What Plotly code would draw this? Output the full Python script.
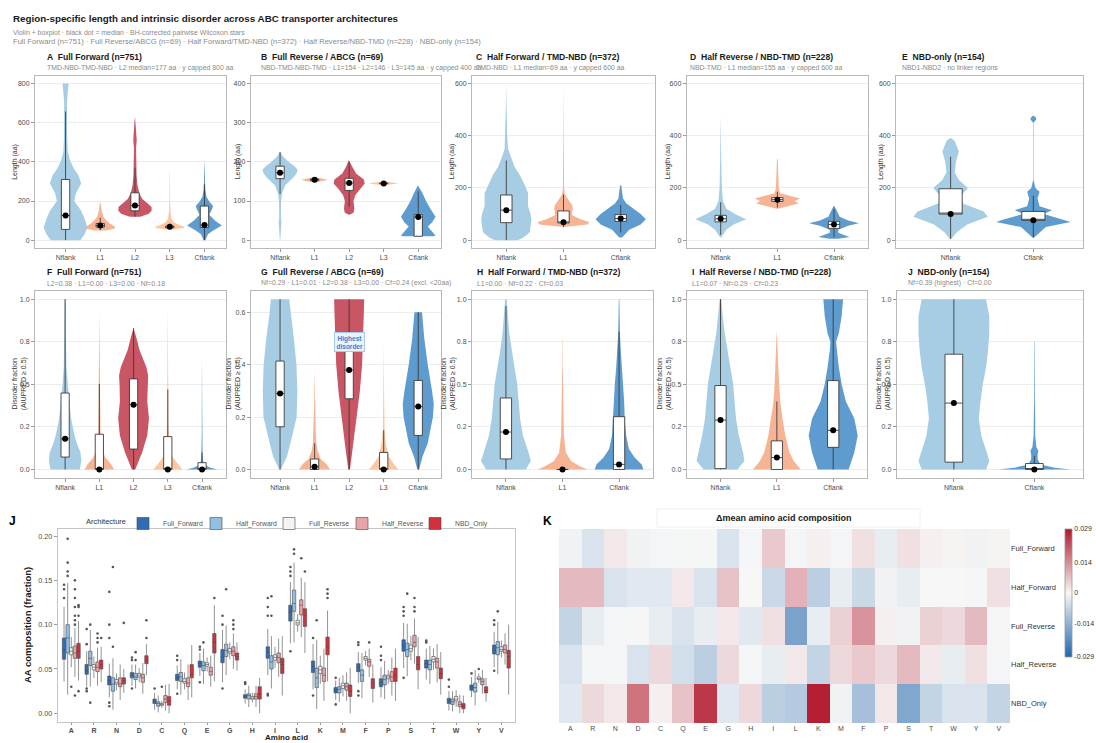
import plotly.graph_objects as go

# ---------------------------------------------------------------
# Region categories
# ---------------------------------------------------------------
REG5 = ["Nflank", "L1", "L2", "L3", "Cflank"]
REG3 = ["Nflank", "L1", "Cflank"]
REG2 = ["Nflank", "Cflank"]

# ---------------------------------------------------------------
# Region length (aa): box statistics and violin density profiles
# (profile = list of y levels and relative density at each level)
# ---------------------------------------------------------------
A_q1 = [55, 67, 150, 63, 65]
A_med = [126, 75, 177, 68, 77]
A_q3 = [310, 85, 242, 72, 174]
A_lo = [0, 50, 120, 55, 0]
A_hi = [657, 115, 370, 85, 285]
A_prof = {
    "Nflank": ([0, 30, 65, 110, 150, 200, 240, 290, 330, 370, 410, 450, 520, 600, 700, 780, 800],
               [0.85, 1.1, 1.26, 1.1, 0.9, 0.5, 0.6, 0.9, 0.75, 0.45, 0.25, 0.13, 0.09, 0.07, 0.08, 0.15, 0.18]),
    "L1": ([50, 58, 65, 72, 85, 100, 120, 150, 180, 200],
           [0.3, 0.8, 0.86, 0.8, 0.55, 0.35, 0.18, 0.08, 0.04, 0.02]),
    "L2": ([120, 135, 150, 170, 190, 210, 240, 280, 330, 400, 470, 510, 540, 600, 630],
           [0.3, 0.8, 0.96, 0.95, 0.7, 0.42, 0.25, 0.14, 0.09, 0.06, 0.06, 0.1, 0.07, 0.04, 0.0]),
    "L3": ([55, 62, 68, 75, 90, 110, 150, 200, 350],
           [0.2, 0.8, 0.86, 0.6, 0.25, 0.1, 0.04, 0.02, 0.01]),
    "Cflank": ([0, 30, 50, 75, 100, 130, 160, 175, 195, 220, 260, 300, 420],
               [0.05, 0.2, 0.5, 1.0, 0.6, 0.28, 0.45, 0.5, 0.3, 0.12, 0.05, 0.03, 0.01]),
}

B_q1 = [157, 152, 127, 144, 10]
B_med = [172, 154, 146, 145, 59]
B_q3 = [189, 156, 158, 146, 65]
B_lo = [118, 150, 85, 142, 10]
B_hi = [225, 158, 200, 148, 125]
B_prof = {
    "Nflank": ([0, 20, 45, 60, 80, 100, 120, 140, 160, 170, 180, 190, 200, 215, 225],
               [0.01, 0.03, 0.08, 0.05, 0.05, 0.06, 0.12, 0.3, 0.77, 0.95, 1.02, 0.8, 0.48, 0.15, 0.02]),
    "L1": ([147, 151, 154, 157, 161], [0.0, 0.5, 0.77, 0.5, 0.0]),
    "L2": ([65, 70, 80, 100, 115, 130, 145, 155, 170, 190, 205],
           [0.02, 0.25, 0.3, 0.25, 0.35, 0.6, 0.9, 0.85, 0.4, 0.15, 0.02]),
    "L3": ([140, 143, 145, 147, 150], [0.0, 0.55, 0.85, 0.55, 0.0]),
    "Cflank": ([10, 12, 25, 35, 45, 60, 80, 100, 120, 140],
               [0.9, 1.0, 0.75, 0.55, 0.8, 1.0, 0.7, 0.45, 0.25, 0.02]),
}

C_q1 = [67, 66, 72]
C_med = [115, 69, 83]
C_q3 = [173, 112, 98]
C_lo = [0, 50, 30]
C_hi = [305, 175, 135]
C_prof = {
    "Nflank": ([0, 10, 30, 80, 100, 130, 150, 180, 210, 250, 280, 320, 350, 400, 500, 600],
               [0.4, 0.6, 0.82, 0.88, 0.85, 0.76, 0.76, 0.76, 0.65, 0.47, 0.29, 0.15, 0.06, 0.03, 0.02, 0.01]),
    "L1": ([50, 60, 70, 80, 95, 110, 120, 135, 150, 175, 200, 400, 600],
           [0.02, 0.85, 0.9, 0.6, 0.3, 0.3, 0.33, 0.3, 0.2, 0.05, 0.02, 0.01, 0.005]),
    "Cflank": ([10, 40, 60, 80, 100, 120, 140, 160, 210],
               [0.05, 0.3, 0.7, 0.88, 0.7, 0.45, 0.2, 0.08, 0.02]),
}

D_q1 = [70, 148, 45]
D_med = [82, 155, 60]
D_q3 = [95, 163, 72]
D_lo = [20, 125, 10]
D_hi = [145, 185, 120]
D_prof = {
    "Nflank": ([10, 40, 60, 80, 100, 120, 150, 200, 300, 480],
               [0.02, 0.2, 0.45, 0.9, 0.5, 0.2, 0.08, 0.04, 0.02, 0.01]),
    "L1": ([120, 128, 140, 150, 160, 168, 180, 200, 250, 310],
           [0.02, 0.3, 0.75, 0.62, 0.8, 0.5, 0.1, 0.05, 0.03, 0.015]),
    "Cflank": ([5, 12, 18, 28, 40, 55, 65, 75, 90, 110, 130],
               [0.15, 0.55, 0.4, 0.15, 0.15, 0.5, 0.88, 0.5, 0.2, 0.1, 0.02]),
}

E_q1 = [100, 76]
E_med = [100, 76]
E_q3 = [197, 110]
E_lo = [5, 10]
E_hi = [320, 170]
E_prof = {
    "Nflank": ([5, 30, 60, 90, 110, 140, 170, 200, 230, 260, 300, 340, 380, 390],
               [0.02, 0.15, 0.4, 0.9, 0.8, 0.3, 0.25, 0.42, 0.2, 0.1, 0.13, 0.2, 0.1, 0.02]),
    "Cflank": ([10, 50, 70, 80, 100, 115, 130, 160, 185, 200, 230, 450, 462, 470, 478],
               [0.02, 0.3, 0.9, 0.7, 0.25, 0.45, 0.15, 0.1, 0.15, 0.05, 0.005, 0.005, 0.07, 0.06, 0.0]),
}

# ---------------------------------------------------------------
# Disorder fraction (AIUPRED >= 0.5)
# ---------------------------------------------------------------
F_q1 = [0.073, 0, 0.12, 0, 0]
F_med = [0.18, 0, 0.38, 0, 0]
F_q3 = [0.449, 0.207, 0.532, 0.193, 0.04]
F_lo = [0, 0, 0, 0, 0]
F_hi = [1.0, 0.503, 0.83, 0.47, 0.1]
F_prof = {
    "Nflank": ([0, 0.05, 0.1, 0.15, 0.2, 0.3, 0.4, 0.5, 0.6, 0.8, 1.0],
               [0.86, 0.95, 0.9, 0.7, 0.55, 0.35, 0.25, 0.15, 0.08, 0.04, 0.03]),
    "L1": ([0, 0.03, 0.07, 0.12, 0.2, 0.3, 0.5, 0.7, 0.93],
           [0.86, 0.7, 0.35, 0.15, 0.07, 0.05, 0.04, 0.02, 0.01]),
    "L2": ([0, 0.05, 0.1, 0.2, 0.3, 0.4, 0.5, 0.55, 0.6, 0.7, 0.78, 0.83],
           [0.1, 0.3, 0.5, 0.8, 0.9, 0.8, 0.82, 0.85, 0.75, 0.35, 0.15, 0.01]),
    "L3": ([0, 0.03, 0.07, 0.12, 0.2, 0.3, 0.5, 0.96],
           [0.85, 0.6, 0.3, 0.12, 0.06, 0.04, 0.03, 0.01]),
    "Cflank": ([0, 0.01, 0.03, 0.06, 0.1, 0.2, 0.5, 0.68],
               [0.9, 0.5, 0.1, 0.05, 0.03, 0.02, 0.01, 0.005]),
}

G_q1 = [0.163, 0, 0.27, 0, 0.13]
G_med = [0.29, 0.01, 0.38, 0, 0.24]
G_q3 = [0.414, 0.04, 0.5, 0.065, 0.34]
G_lo = [0, 0, 0, 0, 0]
G_hi = [0.65, 0.1, 0.65, 0.15, 0.6]
G_prof = {
    "Nflank": ([0, 0.05, 0.1, 0.2, 0.3, 0.4, 0.5, 0.6, 0.65],
               [0.05, 0.4, 0.6, 0.96, 1.0, 0.95, 0.8, 0.6, 0.53]),
    "L1": ([0, 0.02, 0.04, 0.07, 0.1, 0.15, 0.25, 0.38],
           [0.9, 0.7, 0.35, 0.18, 0.1, 0.06, 0.03, 0.01]),
    "L2": ([0, 0.1, 0.2, 0.3, 0.4, 0.5, 0.6, 0.65],
           [0.05, 0.25, 0.45, 0.62, 0.75, 0.82, 0.85, 0.87]),
    "L3": ([0, 0.02, 0.05, 0.1, 0.15, 0.3, 0.48],
           [0.85, 0.6, 0.3, 0.12, 0.05, 0.02, 0.01]),
    "Cflank": ([0, 0.05, 0.1, 0.2, 0.25, 0.3, 0.4, 0.5, 0.6],
               [0.05, 0.25, 0.55, 0.85, 0.9, 0.8, 0.55, 0.35, 0.22]),
}

H_q1 = [0.062, 0, 0]
H_med = [0.22, 0, 0.03]
H_q3 = [0.42, 0, 0.31]
H_lo = [0, 0, 0]
H_hi = [0.96, 0, 0.81]
H_prof = {
    "Nflank": ([0, 0.05, 0.1, 0.2, 0.3, 0.4, 0.5, 0.6, 0.7, 0.8, 0.9, 1.0],
               [0.7, 0.88, 0.8, 0.6, 0.5, 0.45, 0.4, 0.3, 0.2, 0.12, 0.07, 0.03]),
    "L1": ([0, 0.02, 0.05, 0.1, 0.2, 0.4, 0.6, 0.77],
           [0.88, 0.6, 0.3, 0.12, 0.05, 0.02, 0.01, 0.005]),
    "Cflank": ([0, 0.03, 0.07, 0.12, 0.2, 0.3, 0.4, 0.5, 0.6, 0.7, 0.8, 1.0],
               [0.86, 0.8, 0.55, 0.35, 0.25, 0.2, 0.18, 0.15, 0.1, 0.06, 0.03, 0.01]),
}

I_q1 = [0.005, 0, 0.13]
I_med = [0.29, 0.07, 0.23]
I_q3 = [0.493, 0.168, 0.522]
I_lo = [0, 0, 0]
I_hi = [1.0, 0.4, 1.0]
I_prof = {
    "Nflank": ([0, 0.05, 0.1, 0.2, 0.3, 0.4, 0.5, 0.6, 0.7, 0.8, 0.9, 1.0],
               [0.6, 0.85, 0.8, 0.65, 0.55, 0.5, 0.45, 0.35, 0.25, 0.15, 0.08, 0.03]),
    "L1": ([0, 0.05, 0.1, 0.2, 0.3, 0.4, 0.5, 0.6, 0.7, 0.82],
           [0.85, 0.6, 0.45, 0.3, 0.2, 0.12, 0.08, 0.05, 0.03, 0.005]),
    "Cflank": ([0, 0.1, 0.2, 0.3, 0.4, 0.5, 0.6, 0.7, 0.75, 0.8, 0.9, 1.0],
               [0.55, 0.75, 0.87, 0.75, 0.45, 0.3, 0.2, 0.12, 0.1, 0.2, 0.3, 0.35]),
}

J_q1 = [0.043, 0]
J_med = [0.39, 0]
J_q3 = [0.677, 0.035]
J_lo = [0, 0]
J_hi = [1.0, 0.08]
J_prof = {
    "Nflank": ([0, 0.05, 0.1, 0.2, 0.3, 0.4, 0.5, 0.6, 0.7, 0.8, 0.9, 1.0],
               [0.8, 0.88, 0.82, 0.68, 0.62, 0.66, 0.72, 0.8, 0.85, 0.88, 0.88, 0.8]),
    "Cflank": ([0, 0.01, 0.03, 0.06, 0.09, 0.11, 0.13, 0.2, 0.3, 0.4, 0.75],
               [0.9, 0.5, 0.15, 0.08, 0.08, 0.1, 0.05, 0.02, 0.02, 0.01, 0.005]),
}

# ---------------------------------------------------------------
# Amino-acid composition per architecture
# ---------------------------------------------------------------
AMINO = ["A", "R", "N", "D", "C", "Q", "E", "G", "H", "I",
         "L", "K", "M", "F", "P", "S", "T", "W", "Y", "V"]
ARCH = ["Full_Forward", "Half_Forward", "Full_Reverse", "Half_Reverse", "NBD_Only"]

FF_q1 = [.061, .044, .032, .040, .011, .037, .052, .057, .017, .062, .104, .046, .023, .047, .030, .070, .051, .011, .026, .067]
FF_med = [.072, .048, .037, .043, .013, .040, .056, .063, .019, .069, .114, .053, .026, .052, .035, .076, .056, .014, .029, .071]
FF_q3 = [.085, .055, .042, .046, .016, .044, .059, .072, .021, .075, .122, .059, .029, .056, .039, .083, .060, .017, .032, .077]
FF_lo = [.036, .030, .018, .031, .004, .027, .042, .035, .011, .043, .079, .027, .015, .034, .018, .051, .038, .003, .018, .052]
FF_hi = [.120, .070, .056, .055, .023, .054, .068, .094, .027, .095, .148, .078, .037, .069, .052, .102, .073, .025, .041, .092]

HF_q1 = [.068, .054, .025, .038, .008, .036, .048, .064, .016, .050, .115, .029, .023, .036, .032, .064, .049, .010, .024, .066]
HF_med = [.085, .062, .033, .041, .011, .041, .054, .071, .020, .058, .124, .040, .027, .043, .038, .072, .055, .013, .029, .074]
HF_q3 = [.100, .070, .040, .045, .013, .046, .058, .078, .022, .065, .139, .051, .030, .049, .043, .079, .060, .016, .034, .081]
HF_lo = [.021, .030, .004, .028, .001, .021, .033, .043, .007, .028, .080, .005, .013, .017, .016, .042, .033, .002, .009, .044]
HF_hi = [.147, .094, .062, .055, .020, .061, .073, .099, .031, .087, .170, .083, .040, .068, .059, .101, .076, .025, .049, .103]

FR_q1 = [.066, .049, .033, .041, .009, .034, .053, .068, .016, .060, .0996, .045, .028, .060, .039, .070, .058, .014, .038, .070]
FR_med = [.070, .052, .035, .043, .010, .036, .055, .070, .017, .063, .102, .049, .031, .062, .041, .073, .061, .016, .039, .072]
FR_q3 = [.074, .055, .038, .045, .011, .039, .057, .073, .019, .066, .105, .053, .034, .064, .043, .077, .064, .019, .041, .075]
FR_lo = [.052, .040, .026, .035, .006, .027, .047, .061, .012, .051, .092, .033, .019, .054, .033, .060, .049, .007, .034, .063]
FR_hi = [.086, .064, .045, .051, .014, .046, .063, .080, .023, .075, .112, .065, .043, .070, .049, .087, .073, .026, .045, .082]

HR_q1 = [.062, .047, .030, .035, .012, .030, .043, .065, .016, .057, .111, .036, .026, .053, .036, .075, .051, .0075, .032, .068]
HR_med = [.068, .052, .033, .040, .016, .034, .047, .070, .019, .063, .122, .043, .030, .058, .041, .080, .058, .010, .036, .072]
HR_q3 = [.076, .058, .040, .044, .020, .040, .052, .075, .022, .068, .128, .051, .034, .061, .047, .088, .062, .013, .039, .077]
HR_lo = [.041, .031, .015, .022, .003, .015, .030, .050, .007, .041, .086, .014, .014, .041, .020, .056, .035, .000, .022, .055]
HR_hi = [.096, .074, .055, .057, .032, .055, .065, .090, .031, .084, .153, .073, .046, .073, .063, .107, .078, .021, .049, .090]

NB_q1 = [.062, .050, .033, .056, .009, .040, .068, .060, .016, .045, .098, .066, .019, .028, .036, .049, .039, .005, .023, .051]
NB_med = [.070, .055, .037, .060, .014, .044, .080, .064, .022, .055, .110, .075, .025, .034, .043, .055, .045, .008, .026, .064]
NB_q3 = [.079, .060, .040, .065, .019, .055, .090, .068, .030, .062, .118, .086, .032, .039, .051, .064, .051, .011, .030, .071]
NB_lo = [.037, .035, .023, .043, .000, .018, .036, .048, .000, .020, .068, .036, .000, .012, .014, .027, .021, .000, .013, .021]
NB_hi = [.104, .075, .050, .078, .033, .077, .122, .080, .040, .087, .148, .116, .051, .055, .073, .086, .069, .020, .040, .100]

# outlying proteins per architecture (amino acid -> fractions)
FF_out = {"A": [0.13, 0.14, 0.145], "R": [0.025, 0.028, 0.078, 0.095], "N": [0.085, 0.10, 0.137, 0.012, 0.008],
          "D": [0.06, 0.063, 0.028], "C": [0.028], "Q": [0.06, 0.065, 0.022], "E": [0.072, 0.075, 0.035],
          "G": [0.10, 0.11, 0.028], "H": [0.033, 0.035], "I": [0.11, 0.12, 0.13, 0.02, 0.022],
          "L": [0.155, 0.16, 0.165, 0.07], "K": [0.085, 0.02], "M": [0.04, 0.01], "F": [0.077, 0.08, 0.02, 0.025],
          "P": [0.06, 0.065, 0.075], "S": [0.11, 0.115, 0.12, 0.04], "T": [0.08, 0.082], "W": [0.03, 0.038],
          "Y": [0.045], "V": [0.10, 0.105, 0.048]}
HF_out = {"A": [0.155, 0.16, 0.17, 0.197], "R": [0.10, 0.012], "N": [0.075, 0.165], "D": [0.06, 0.069],
          "E": [0.08], "G": [0.14], "I": [0.11, 0.132], "L": [0.18, 0.185], "K": [0.105], "S": [0.135], "V": [0.115]}
FR_out = {"A": [0.03], "C": [0.03], "Y": [0.05]}
HR_out = {"A": [0.10, 0.105, 0.11, 0.12, 0.13, 0.14, 0.15, 0.02], "R": [0.08, 0.085, 0.09],
          "G": [0.095, 0.10, 0.105], "L": [0.175], "S": [0.115, 0.12, 0.13], "F": [0.08]}
NB_out = {"A": [0.11, 0.12, 0.122, 0.025], "R": [0.085], "N": [0.102], "D": [0.085, 0.105], "E": [0.13],
          "K": [0.13, 0.135, 0.14], "L": [0.16]}

# ---------------------------------------------------------------
# Delta mean amino-acid composition (architecture vs overall mean)
# ---------------------------------------------------------------
DELTA_FF = [-0.001, -0.004, 0.002, -0.001, -0.0005, -0.0003, -0.0003, -0.004, -0.0005, 0.006,
            -0.0005, 0.001, -0.0005, 0.003, -0.002, 0.003, 0.001, 0.0005, -0.001, 0.0005]
DELTA_HF = [0.008, 0.008, -0.004, -0.003, -0.003, 0.002, -0.004, 0.007, 0.0, -0.006,
            0.009, -0.008, -0.002, -0.006, -0.001, -0.002, 0.0, 0.0, -0.0005, 0.003]
DELTA_FR = [-0.007, -0.002, -0.0005, -0.0003, -0.002, -0.004, -0.002, 0.002, -0.003, 0.003,
            -0.017, -0.002, 0.005, 0.013, 0.001, -0.001, 0.005, 0.004, 0.008, 0.0003]
DELTA_HR = [-0.004, -0.0005, -0.0005, -0.004, 0.004, -0.005, -0.008, 0.004, -0.0005, -0.002,
            0.002, -0.007, 0.004, 0.006, 0.004, 0.008, 0.002, -0.002, 0.003, -0.0005]
DELTA_NB = [-0.003, 0.004, 0.002, 0.017, 0.001, 0.007, 0.025, -0.003, 0.004, -0.008,
            -0.009, 0.028, -0.001, -0.011, 0.002, -0.016, -0.007, -0.004, -0.004, -0.007]

# ---------------------------------------------------------------
# Styling
# ---------------------------------------------------------------
W, H = 1096, 743
FONT = "Liberation Sans, Arial, sans-serif"
REGION_COLORS = {"Nflank": "#a7cde4", "L1": "#f7b495", "L2": "#c95664",
                 "L3": "#fcc7a0", "Cflank": "#5e9bcf"}
ARCH_COLORS = {"Full_Forward": "#2f6db5", "Half_Forward": "#92bfe3", "Full_Reverse": "#f4f4f4",
               "Half_Reverse": "#e7a3a9", "NBD_Only": "#d3303d"}
TICK_FONT = dict(family=FONT, size=7, color="#4d4d4d")
FRAME = "#b8b8b8"
VIOLIN_HALF = 0.5
OVERLAY_OFFSET = 20   # boxes sit on overlay axes so they render above the violins


def xname(i):
    return "x" if i == 1 else f"x{i}"


def yname(i):
    return "y" if i == 1 else f"y{i}"


def xkey(i):
    return "xaxis" if i == 1 else f"xaxis{i}"


def ykey(i):
    return "yaxis" if i == 1 else f"yaxis{i}"


def px_dom_x(a, b):
    return [a / W, b / W]


def px_dom_y(top, bottom):
    return [1 - bottom / H, 1 - top / H]


LEN_TICKS_600 = [0, 200, 400, 600]
DIS_TICKS = [0, 0.25, 0.5, 0.75, 1.0]
DIS_TEXT = ["0.0", "0.2", "0.5", "0.8", "1.0"]
DIS_TITLE = "Disorder fraction<br>(AIUPRED ≥ 0.5)"

panels = [
    dict(prof=A_prof, q1=A_q1, med=A_med, q3=A_q3, lo=A_lo, hi=A_hi, reg=REG5,
         xpx=(35, 226), ypx=(75.7, 248), yr=[-40, 840], tv=[0, 200, 400, 600, 800], tt=None, bw=0.24,
         xr=[0.12, 5.62], tx=45, title="A  Full Forward (n=751)",
         sub="TMD-NBD-TMD-NBD · L2 median=177 aa · y capped 800 aa", ytitle="Length (aa)", ytx=15),
    dict(prof=B_prof, q1=B_q1, med=B_med, q3=B_q3, lo=B_lo, hi=B_hi, reg=REG5,
         xpx=(250.7, 440.7), ypx=(75.7, 248), yr=[-20, 420], tv=[0, 100, 200, 300, 400], tt=None, bw=0.24,
         xr=[0.15, 5.65], tx=259, title="B  Full Reverse / ABCG (n=69)",
         sub="NBD-TMD-NBD-TMD · L1=154 · L2=146 · L3=145 aa · y capped 400 aa", ytitle="Length (aa)", ytx=237.5),
    dict(prof=C_prof, q1=C_q1, med=C_med, q3=C_q3, lo=C_lo, hi=C_hi, reg=REG3,
         xpx=(472, 655), ypx=(75.7, 248), yr=[-30, 630], tv=LEN_TICKS_600, tt=None, bw=0.2,
         xr=[0.4, 3.6], tx=474, title="C  Half Forward / TMD-NBD (n=372)",
         sub="TMD-NBD · L1 median=69 aa · y capped 600 aa", ytitle="Length (aa)", ytx=451.5),
    dict(prof=D_prof, q1=D_q1, med=D_med, q3=D_q3, lo=D_lo, hi=D_hi, reg=REG3,
         xpx=(686.7, 868), ypx=(75.7, 248), yr=[-30, 630], tv=LEN_TICKS_600, tt=None, bw=0.2,
         xr=[0.4, 3.6], tx=688, title="D  Half Reverse / NBD-TMD (n=228)",
         sub="NBD-TMD · L1 median=155 aa · y capped 600 aa", ytitle="Length (aa)", ytx=667.5),
    dict(prof=E_prof, q1=E_q1, med=E_med, q3=E_q3, lo=E_lo, hi=E_hi, reg=REG2,
         xpx=(896, 1083), ypx=(75.7, 248), yr=[-30, 630], tv=LEN_TICKS_600, tt=None, bw=0.28,
         xr=[0.34, 2.6], tx=900, title="E  NBD-only (n=154)",
         sub="NBD1-NBD2 · no linker regions", ytitle="Length (aa)", ytx=881),
    dict(prof=F_prof, q1=F_q1, med=F_med, q3=F_q3, lo=F_lo, hi=F_hi, reg=REG5,
         xpx=(35, 226), ypx=(290.7, 478), yr=[-0.05, 1.05], tv=DIS_TICKS, tt=DIS_TEXT, bw=0.24,
         xr=[0.12, 5.7], tx=45, title="F  Full Forward (n=751)",
         sub="L2=0.38 · L1=0.00 · L3=0.00 · Nf=0.18", ytitle=DIS_TITLE, ytx=19),
    dict(prof=G_prof, q1=G_q1, med=G_med, q3=G_q3, lo=G_lo, hi=G_hi, reg=REG5,
         xpx=(250.7, 440.7), ypx=(290.7, 478), yr=[-0.0325, 0.6825], tv=[0, 0.2, 0.4, 0.6],
         tt=["0.0", "0.2", "0.4", "0.6"], bw=0.24, xr=[0.15, 5.65], tx=259,
         title="G  Full Reverse / ABCG (n=69)",
         sub="Nf=0.29 · L1=0.01 · L2=0.38 · L3=0.00 · Cf=0.24 (excl. <20aa)", ytitle=DIS_TITLE, ytx=233),
    dict(prof=H_prof, q1=H_q1, med=H_med, q3=H_q3, lo=H_lo, hi=H_hi, reg=REG3,
         xpx=(472, 653), ypx=(290.7, 478), yr=[-0.05, 1.05], tv=DIS_TICKS, tt=DIS_TEXT, bw=0.2,
         xr=[0.4, 3.6], tx=475, title="H  Half Forward / TMD-NBD (n=372)",
         sub="L1=0.00 · Nf=0.22 · Cf=0.03", ytitle=DIS_TITLE, ytx=448),
    dict(prof=I_prof, q1=I_q1, med=I_med, q3=I_q3, lo=I_lo, hi=I_hi, reg=REG3,
         xpx=(686.7, 867), ypx=(290.7, 478), yr=[-0.05, 1.05], tv=DIS_TICKS, tt=DIS_TEXT, bw=0.2,
         xr=[0.4, 3.6], tx=690, title="I  Half Reverse / NBD-TMD (n=228)",
         sub="L1=0.07 · Nf=0.29 · Cf=0.23", ytitle=DIS_TITLE, ytx=664),
    dict(prof=J_prof, q1=J_q1, med=J_med, q3=J_q3, lo=J_lo, hi=J_hi, reg=REG2,
         xpx=(896.7, 1082.7), ypx=(290.7, 478), yr=[-0.05, 1.05], tv=DIS_TICKS, tt=DIS_TEXT, bw=0.22,
         xr=[0.29, 2.6], tx=906, title="J  NBD-only (n=154)",
         sub="Nf=0.39 (highest) · Cf=0.00", ytitle=DIS_TITLE, ytx=883),
]

fig = go.Figure()
layout = {}
annotations = []
shapes = []

for idx, p in enumerate(panels, start=1):
    xa, ya = xname(idx), yname(idx)
    ov = idx + OVERLAY_OFFSET
    xo, yo = xname(ov), yname(ov)
    positions = list(range(1, len(p["reg"]) + 1))
    # violins built from density profiles
    for pos, reg in zip(positions, p["reg"]):
        ys, dens = p["prof"][reg]
        right = [pos + VIOLIN_HALF * d for d in dens]
        left = [pos - VIOLIN_HALF * d for d in reversed(dens)]
        fig.add_trace(go.Scatter(
            x=right + left, y=list(ys) + list(reversed(ys)), mode="lines", fill="toself",
            fillcolor=REGION_COLORS[reg], line=dict(width=0, color=REGION_COLORS[reg]),
            hoverinfo="skip", showlegend=False, xaxis=xa, yaxis=ya))
    # boxplots from precomputed statistics (overlay subplot, drawn on top)
    fig.add_trace(go.Box(
        x=positions, q1=p["q1"], median=p["med"], q3=p["q3"], lowerfence=p["lo"], upperfence=p["hi"],
        width=p["bw"], fillcolor="white", line=dict(color="#3c3c3c", width=0.9), whiskerwidth=0,
        boxpoints=False, showlegend=False, hoverinfo="skip", xaxis=xo, yaxis=yo))
    # median dots
    fig.add_trace(go.Scatter(
        x=positions, y=p["med"], mode="markers", marker=dict(color="black", size=6),
        showlegend=False, hoverinfo="skip", xaxis=xo, yaxis=yo))

    layout[xkey(idx)] = dict(domain=px_dom_x(*p["xpx"]), anchor=ya, range=p["xr"], tickvals=positions,
                             ticktext=p["reg"], showgrid=False, zeroline=False, showline=True, mirror=True,
                             linecolor=FRAME, linewidth=1, ticks="outside", ticklen=3, tickcolor="#9a9a9a",
                             tickfont=TICK_FONT, fixedrange=True)
    yax = dict(domain=px_dom_y(*p["ypx"]), anchor=xa, range=p["yr"], tickvals=p["tv"],
               showgrid=True, gridcolor="#ededed", gridwidth=1, zeroline=False, showline=True,
               mirror=True, linecolor=FRAME, linewidth=1, ticks="outside", ticklen=3,
               tickcolor="#9a9a9a", tickfont=TICK_FONT, fixedrange=True)
    if p["tt"] is not None:
        yax["ticktext"] = p["tt"]
    layout[ykey(idx)] = yax
    layout[xkey(ov)] = dict(overlaying=xa, anchor=yo, range=p["xr"], visible=False, fixedrange=True)
    layout[ykey(ov)] = dict(overlaying=ya, anchor=xo, range=p["yr"], visible=False, fixedrange=True)

    top = p["ypx"][0]
    annotations.append(dict(text=f"<b>{p['title']}</b>", x=p["tx"], y=top - 19, xref="paper", yref="paper",
                            showarrow=False, font=dict(family=FONT, size=8.6, color="#1a1a1a"),
                            xanchor="left", yanchor="middle"))
    annotations.append(dict(text=p["sub"], x=p["tx"], y=top - 7.5, xref="paper", yref="paper",
                            showarrow=False, font=dict(family=FONT, size=6.9, color="#8a8a8a"),
                            xanchor="left", yanchor="middle"))
    annotations.append(dict(text=p["ytitle"], x=p["ytx"], y=(p["ypx"][0] + p["ypx"][1]) / 2,
                            xref="paper", yref="paper", showarrow=False, textangle=-90,
                            font=dict(family=FONT, size=7, color="#333333"), xanchor="center", yanchor="middle"))

# "Highest disorder" call-out on the L2 violin of panel G
annotations.append(dict(text="<b>Highest<br>disorder</b>", x=3, y=0.485, xref="x27", yref="y27", showarrow=False,
                        font=dict(family=FONT, size=6.5, color="#3b7fcf"), bgcolor="#eaf2fb",
                        bordercolor="#a9c9ee", borderwidth=1, borderpad=1.5))

# ---------------- Panel J: amino-acid composition boxplots ----------------
AA_IDX = 11
arch_stats = [
    ("Full_Forward", FF_q1, FF_med, FF_q3, FF_lo, FF_hi, FF_out),
    ("Half_Forward", HF_q1, HF_med, HF_q3, HF_lo, HF_hi, HF_out),
    ("Full_Reverse", FR_q1, FR_med, FR_q3, FR_lo, FR_hi, FR_out),
    ("Half_Reverse", HR_q1, HR_med, HR_q3, HR_lo, HR_hi, HR_out),
    ("NBD_Only", NB_q1, NB_med, NB_q3, NB_lo, NB_hi, NB_out),
]
DODGE = 0.16
for j, (arch, q1, med, q3, lo, hi, outl) in enumerate(arch_stats):
    pos = [i + (j - 2) * DODGE for i in range(len(AMINO))]
    fig.add_trace(go.Box(
        x=pos, q1=q1, median=med, q3=q3, lowerfence=lo, upperfence=hi, width=0.15,
        fillcolor=ARCH_COLORS[arch], line=dict(color="#4a4a4a", width=0.6), whiskerwidth=0,
        boxpoints=False, name=arch, legendgroup=arch, showlegend=True, hoverinfo="skip",
        xaxis=xname(AA_IDX), yaxis=yname(AA_IDX)))
    ox, oy = [], []
    for i, aa in enumerate(AMINO):
        for v in outl.get(aa, []):
            ox.append(i + (j - 2) * DODGE)
            oy.append(v)
    fig.add_trace(go.Scatter(
        x=ox, y=oy, mode="markers", marker=dict(color="#3a3a3a", size=2.6, opacity=0.85),
        showlegend=False, hoverinfo="skip", xaxis=xname(AA_IDX), yaxis=yname(AA_IDX)))

layout["xaxis11"] = dict(domain=px_dom_x(57.7, 515), anchor="y11", range=[-0.6, 19.6],
                         tickvals=list(range(len(AMINO))), ticktext=[f"<b>{a}</b>" for a in AMINO],
                         showgrid=False, zeroline=False, showline=True, mirror=True, linecolor="#c4c4c4",
                         ticks="outside", ticklen=2, tickcolor="#9a9a9a",
                         tickfont=dict(family=FONT, size=7, color="#4d4d4d"), fixedrange=True)
layout["yaxis11"] = dict(domain=px_dom_y(529.3, 721.7), anchor="x11", range=[-0.0095, 0.2076],
                         tickvals=[0, 0.05, 0.10, 0.15, 0.20],
                         ticktext=["0.00", "0.05", "0.10", "0.15", "0.20"], showgrid=False, zeroline=False,
                         showline=True, mirror=True, linecolor="#c4c4c4", ticks="outside", ticklen=3,
                         tickcolor="#9a9a9a", tickfont=dict(family=FONT, size=7.2, color="#4d4d4d"),
                         fixedrange=True)

annotations += [
    dict(text="<b>AA composition (fraction)</b>", x=27, y=625, xref="paper", yref="paper", showarrow=False,
         textangle=-90, font=dict(family=FONT, size=9.5, color="#1a1a1a")),
    dict(text="<b>Amino acid</b>", x=286, y=737.5, xref="paper", yref="paper", showarrow=False,
         font=dict(family=FONT, size=8, color="#1a1a1a")),
    dict(text="Architecture", x=106, y=521, xref="paper", yref="paper", showarrow=False,
         font=dict(family=FONT, size=7.5, color="#333333")),
    dict(text="<b>J</b>", x=7, y=521, xref="paper", yref="paper", showarrow=False, xanchor="left",
         font=dict(family=FONT, size=12, color="#000000")),
    dict(text="<b>K</b>", x=541, y=521, xref="paper", yref="paper", showarrow=False, xanchor="left",
         font=dict(family=FONT, size=12, color="#000000")),
]

# ---------------- Panel K: heatmap of delta mean composition ----------------
HM_IDX = 12
fig.add_trace(go.Heatmap(
    z=[DELTA_FF, DELTA_HF, DELTA_FR, DELTA_HR, DELTA_NB], x=AMINO, y=ARCH,
    colorscale=[[0, "#2166ac"], [0.5, "#f7f7f7"], [1, "#b2182b"]], zmin=-0.029, zmax=0.029,
    xgap=0, ygap=0, hoverinfo="skip", xaxis=xname(HM_IDX), yaxis=yname(HM_IDX),
    colorbar=dict(x=1065 / W, xanchor="left", y=1 - 529 / H, yanchor="top", len=128 / H,
                  lenmode="fraction", thickness=7, thicknessmode="pixels", xpad=0, ypad=0,
                  tickvals=[-0.029, -0.014, 0, 0.014, 0.029],
                  ticktext=["-0.029", "-0.014", "0", "0.014", "0.029"], ticks="",
                  tickfont=dict(family=FONT, size=7, color="#333333"),
                  outlinewidth=0.8, outlinecolor="#9a9a9a")))
layout["xaxis12"] = dict(domain=px_dom_x(559, 1010), anchor="y12", showgrid=False, zeroline=False,
                         showline=False, ticks="", tickfont=dict(family=FONT, size=7, color="#4d4d4d"),
                         fixedrange=True)
layout["yaxis12"] = dict(domain=px_dom_y(529, 723), anchor="x12", side="right", autorange="reversed",
                         showgrid=False, zeroline=False, showline=False, ticks="",
                         tickfont=dict(family=FONT, size=7.5, color="#333333"), fixedrange=True)
annotations.append(dict(text="<b>Δmean amino acid composition</b>", x=784, y=518, xref="paper",
                        yref="paper", showarrow=False, font=dict(family=FONT, size=9, color="#1a1a1a")))
shapes.append(dict(type="rect", xref="paper", yref="paper", x0=657 / W, x1=920 / W,
                   y0=1 - 527 / H, y1=1 - 509 / H, line=dict(color="#f0f0f0", width=1),
                   fillcolor="rgba(0,0,0,0)"))

# ---------------- Figure title block ----------------
annotations += [
    dict(text="<b>Region-specific length and intrinsic disorder across ABC transporter architectures</b>",
         x=11, y=19, xref="paper", yref="paper", showarrow=False, xanchor="left",
         font=dict(family=FONT, size=9.8, color="#1a1a1a")),
    dict(text="Violin + boxplot · black dot = median · BH-corrected pairwise Wilcoxon stars",
         x=11, y=32.5, xref="paper", yref="paper", showarrow=False, xanchor="left",
         font=dict(family=FONT, size=6.9, color="#8a8a8a")),
    dict(text="Full Forward (n=751) · Full Reverse/ABCG (n=69) · Half Forward/TMD-NBD (n=372) · "
              "Half Reverse/NBD-TMD (n=228) · NBD-only (n=154)",
         x=11, y=41.5, xref="paper", yref="paper", showarrow=False, xanchor="left",
         font=dict(family=FONT, size=7.6, color="#8a8a8a")),
]

# convert pixel-based annotation positions to paper fractions
for a in annotations:
    if a.get("xref") == "paper":
        a["x"] = a["x"] / W
    if a.get("yref") == "paper":
        a["y"] = 1 - a["y"] / H
    a.setdefault("xanchor", "center")
    a.setdefault("yanchor", "middle")

fig.update_layout(
    width=W, height=H, margin=dict(l=0, r=0, t=0, b=0),
    paper_bgcolor="white", plot_bgcolor="white",
    font=dict(family=FONT, size=7, color="#333333"),
    annotations=annotations, shapes=shapes, hovermode=False,
    legend=dict(orientation="h", x=123 / W, y=1 - 509 / H, xanchor="left", yanchor="top",
                font=dict(family=FONT, size=6.8, color="#555555"), itemwidth=30, entrywidth=28,
                entrywidthmode="pixels", bgcolor="rgba(0,0,0,0)", tracegroupgap=0),
    **layout,
)

fig.write_html("out.html")
